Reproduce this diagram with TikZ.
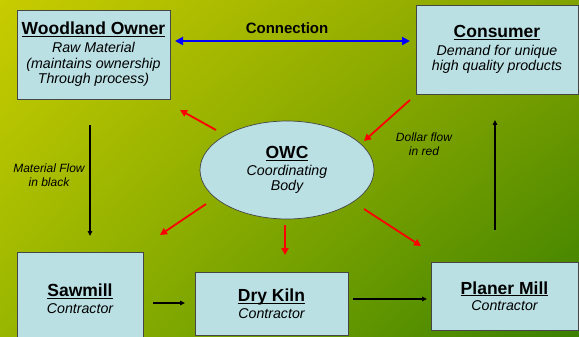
\documentclass[tikz,border=0pt]{standalone}
\usepackage{fontspec}
\setmainfont{Liberation Sans}
\usetikzlibrary{arrows.meta,shapes.geometric,shadings}
\definecolor{bgTL}{RGB}{200,204,0}
\definecolor{bgTR}{RGB}{128,162,0}
\definecolor{bgBL}{RGB}{152,182,0}
\definecolor{bgBR}{RGB}{58,128,0}
\definecolor{boxfill}{RGB}{186,224,228}
\definecolor{boxline}{RGB}{70,70,70}
\newcommand{\ttl}[1]{{\fontsize{17.5}{19}\selectfont\bfseries\upshape\underline{\smash{#1}}\vphantom{#1}}}
\tikzset{
  box/.style={draw=boxline, fill=boxfill, line width=0.7pt, inner sep=0pt, align=center,
    font=\fontsize{14.2}{15.5}\selectfont\itshape},
  owcshape/.style={ellipse, draw=boxline, fill=boxfill, line width=0.7pt, inner sep=0pt,
    minimum width=174pt, minimum height=98pt, align=center,
    font=\fontsize{14.2}{15.5}\selectfont\itshape},
  note/.style={align=center, inner sep=0pt, font=\fontsize{12}{14}\selectfont\itshape},
  redarrow/.style={draw=red, line width=1.8pt, -{Triangle[length=7pt,width=7pt]}},
  bluearrow/.style={draw=blue, line width=2.8pt, {Triangle[length=8pt,width=8pt]}-{Triangle[length=8pt,width=8pt]}},
  blackarrow/.style={draw=black, line width=1.4pt, -{Triangle[length=5pt,width=4.5pt]}}
}
\begin{document}
\begin{tikzpicture}[x={(1pt,0)}, y={(0,-1pt)}]
\useasboundingbox (0,0) rectangle (579,337);
\shade[upper left=bgTL, upper right=bgTR, lower left=bgBL, lower right=bgBR] (0,0) rectangle (579,337);

% boxes
\node[box, minimum width=153pt, minimum height=89pt] (wo) at (93.5,54.5)
  {\ttl{Woodland Owner}\\[2.5pt]Raw Material\\(maintains ownership\\Through process)};
\node[box, minimum width=162pt, minimum height=89pt] (con) at (497,49.5)
  {\ttl{Consumer}\\[2pt]Demand for unique\\high quality products};
\node[box, minimum width=126pt, minimum height=93pt] (saw) at (80,298.5)
  {\ttl{Sawmill}\\[1pt]Contractor};
\node[box, minimum width=153pt, minimum height=63pt] (dry) at (271.5,303.5)
  {\ttl{Dry Kiln}\\[1pt]Contractor};
\node[box, minimum width=147pt, minimum height=68pt] (plan) at (504.5,296)
  {\ttl{Planer Mill}\\[1pt]Contractor};
\node[owcshape] (owc) at (287,170)
  {\ttl{OWC}\\[1pt]Coordinating\\Body};

% labels
\node[inner sep=0pt, font=\fontsize{15}{17}\selectfont\bfseries] (connlbl) at (287,28) {Connection};
\node[note] (matlbl) at (49,175.5) {Material Flow\\in black};
\node[note] (dollbl) at (424,144) {Dollar flow\\in red};

% connector endpoints
\coordinate (bA) at (175,41);
\coordinate (bB) at (410,41);
\coordinate (r1a) at (216,130);
\coordinate (r1b) at (180,110);
\coordinate (r2a) at (410,100);
\coordinate (r2b) at (364,141);
\coordinate (r3a) at (206,204);
\coordinate (r3b) at (160,235);
\coordinate (r4a) at (285,225);
\coordinate (r4b) at (285,255);
\coordinate (r5a) at (364,209);
\coordinate (r5b) at (421,246);
\coordinate (k1a) at (90,125);
\coordinate (k1b) at (90,236);
\coordinate (k2a) at (495,230);
\coordinate (k2b) at (495,120);
\coordinate (k3a) at (153,303);
\coordinate (k3b) at (185,303);
\coordinate (k4a) at (353,299);
\coordinate (k4b) at (427,299);

% connectors
\draw[bluearrow] (bA) -- (bB);
\draw[redarrow] (r1a) -- (r1b);
\draw[redarrow] (r2a) -- (r2b);
\draw[redarrow] (r3a) -- (r3b);
\draw[redarrow] (r4a) -- (r4b);
\draw[redarrow] (r5a) -- (r5b);
\draw[blackarrow] (k1a) -- (k1b);
\draw[blackarrow] (k2a) -- (k2b);
\draw[blackarrow] (k3a) -- (k3b);
\draw[blackarrow] (k4a) -- (k4b);
\end{tikzpicture}
\end{document}
